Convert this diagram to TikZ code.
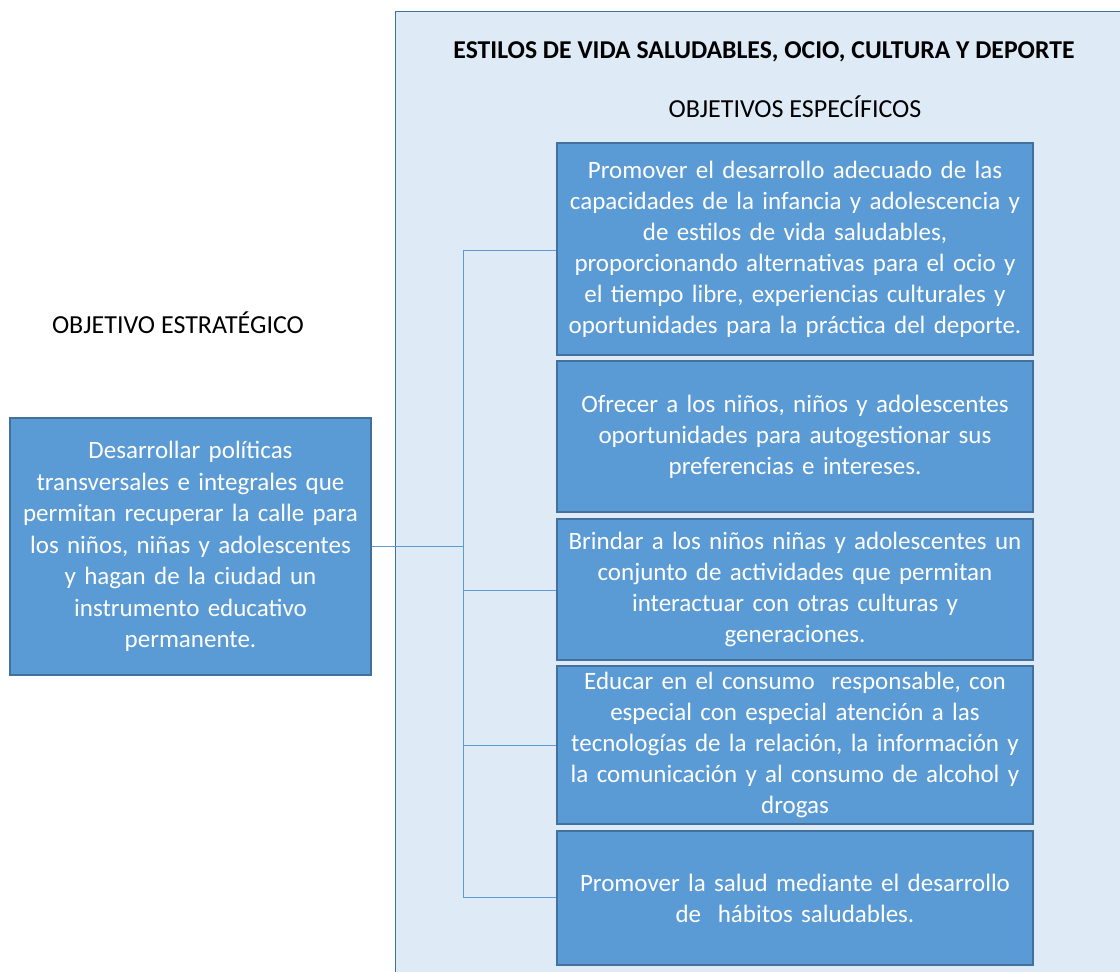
\documentclass[tikz,border=0pt]{standalone}
\usepackage{fontspec}
\setmainfont{Carlito}
\definecolor{panelfill}{HTML}{DEEAF6}
\definecolor{panelline}{HTML}{41719C}
\definecolor{boxfill}{HTML}{5B9BD5}
\definecolor{boxline}{HTML}{41719C}
\definecolor{conn}{HTML}{5B9BD5}
\tikzset{
  objbox/.style={draw=boxline, line width=1.2pt, fill=boxfill, text=white, align=center,
    inner sep=0pt, font=\fontsize{25}{31}\selectfont},
  link/.style={draw=conn, line width=1pt},
  heading/.style={font=\fontsize{26}{30}\selectfont},
}
\begin{document}
\begin{tikzpicture}[x=1pt,y=1pt]
\useasboundingbox (0,0) rectangle (1120,-972);
\fill[white] (0,0) rectangle (1120,-972);
% panel
\fill[panelfill] (395,-11) rectangle (1120,-972);
\draw[panelline, line width=1pt] (395,-972) -- (395,-11) -- (1120,-11);
\node[heading, font=\fontsize{25.7}{30}\selectfont\bfseries] (title) at (764,-52) {ESTILOS DE VIDA SALUDABLES, OCIO, CULTURA Y DEPORTE};
\node[heading] (spec) at (795,-107) {OBJETIVOS ESPECÍFICOS};
\node[heading] (estr) at (178,-323) {OBJETIVO ESTRATÉGICO};
% boxes
\node[objbox, minimum width=476, minimum height=212, text width=474] (b1) at (795,-249)
 {Promover el desarrollo adecuado de las\\capacidades de la infancia y adolescencia y\\de estilos de vida saludables,\\proporcionando alternativas para el ocio y\\el tiempo libre, experiencias culturales y\\oportunidades para la práctica del deporte.};
\node[objbox, minimum width=476, minimum height=151, text width=474] (b2) at (795,-436.5)
 {Ofrecer a los niños, niños y adolescentes\\oportunidades para autogestionar sus\\preferencias e intereses.};
\node[objbox, minimum width=476, minimum height=141, text width=474] (b3) at (795,-589.5)
 {Brindar a los niños niñas y adolescentes un\\conjunto de actividades que permitan\\interactuar con otras culturas y\\generaciones.};
\node[objbox, minimum width=476, minimum height=158, text width=474] (b4) at (795,-745)
 {Educar en el consumo~ responsable, con\\especial con especial atención a las\\tecnologías de la relación, la información y\\la comunicación y al consumo de alcohol y\\drogas};
\node[objbox, minimum width=476, minimum height=134, text width=474] (b5) at (795,-898)
 {Promover la salud mediante el desarrollo\\de~ hábitos saludables.};
\node[objbox, minimum width=361, minimum height=257, text width=359, font=\fontsize{25}{31.5}\selectfont] (root) at (190.5,-546.5)
 {Desarrollar políticas\\transversales e integrales que\\permitan recuperar la calle para\\los niños, niñas y adolescentes\\y hagan de la ciudad un\\instrumento educativo\\permanente.};
% connectors
\coordinate (trunk) at (463,-546.5);
\coordinate (top) at (463,-250);
\coordinate (bot) at (463,-897);
\draw[link] (root.east) -- (trunk);
\draw[link] (top) -- (bot);
\draw[link] (top) -- (b1.west |- top);
\draw[link] (463,-590) -- (b3.west |- 0,-590);
\draw[link] (463,-745) -- (b4.west);
\draw[link] (bot) -- (b5.west |- bot);
\end{tikzpicture}
\end{document}
